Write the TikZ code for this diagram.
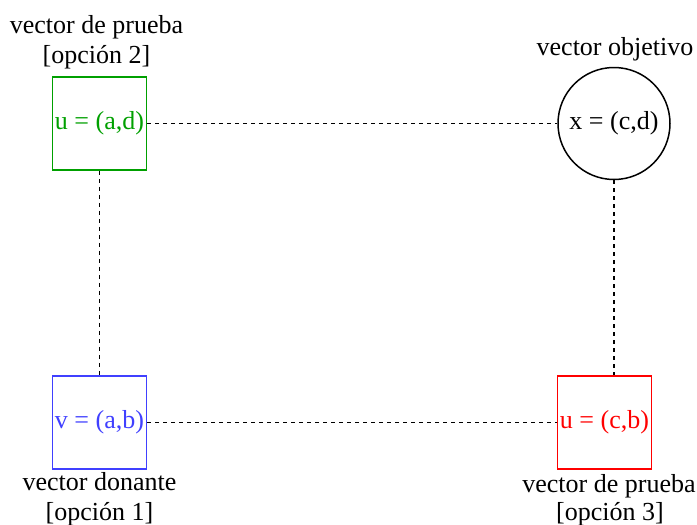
\documentclass[tikz,border=0pt]{standalone}
\usepackage{fontspec}
\setmainfont{Liberation Serif}
\definecolor{cgreen}{RGB}{0,160,0}
\definecolor{cblue}{RGB}{64,64,255}
\definecolor{cred}{RGB}{255,0,0}
\tikzset{
  vecbox/.style={draw, line width=1.5pt, rectangle, minimum width=94pt, minimum height=93pt, inner sep=1pt, font=\fontsize{26}{30}\selectfont},
  vecgoal/.style={draw, line width=1.5pt, circle, minimum size=112pt, inner sep=0pt, font=\fontsize{26}{30}\selectfont},
  lbl/.style={anchor=base, inner sep=0pt, font=\fontsize{26}{30}\selectfont},
  link/.style={line width=1.5pt, dash pattern=on 4pt off 4pt}
}
\begin{document}
\begin{tikzpicture}[x=1pt,y=-1pt]
\useasboundingbox (0,0) rectangle (697,525);
\node[vecbox, draw=cgreen, text=cgreen] (g) at (99.5,123.5) {u = (a,d)};
\node[vecgoal] (c) at (614,123.5) {x = (c,d)};
\node[vecbox, draw=cblue, text=cblue] (b) at (99.5,422.5) {v = (a,b)};
\node[vecbox, draw=cred, text=cred] (r) at (604.5,422.5) {u = (c,b)};
\draw[link] (g) -- (c);
\draw[link] (g) -- (b);
\draw[link] (b) -- (r);
\draw[link] (c.south) -- (c.south |- r.north);
\node[lbl] (l1a) at (96.5,33) {vector de prueba};
\node[lbl] (l1b) at (96.5,63) {[opción 2]};
\node[lbl] (l2a) at (615,55) {vector objetivo};
\node[lbl] (l3a) at (99.5,490) {vector donante};
\node[lbl] (l3b) at (99.5,520) {[opción 1]};
\node[lbl] (l4a) at (609,492) {vector de prueba};
\node[lbl] (l4b) at (610,520) {[opción 3]};
\end{tikzpicture}
\end{document}
